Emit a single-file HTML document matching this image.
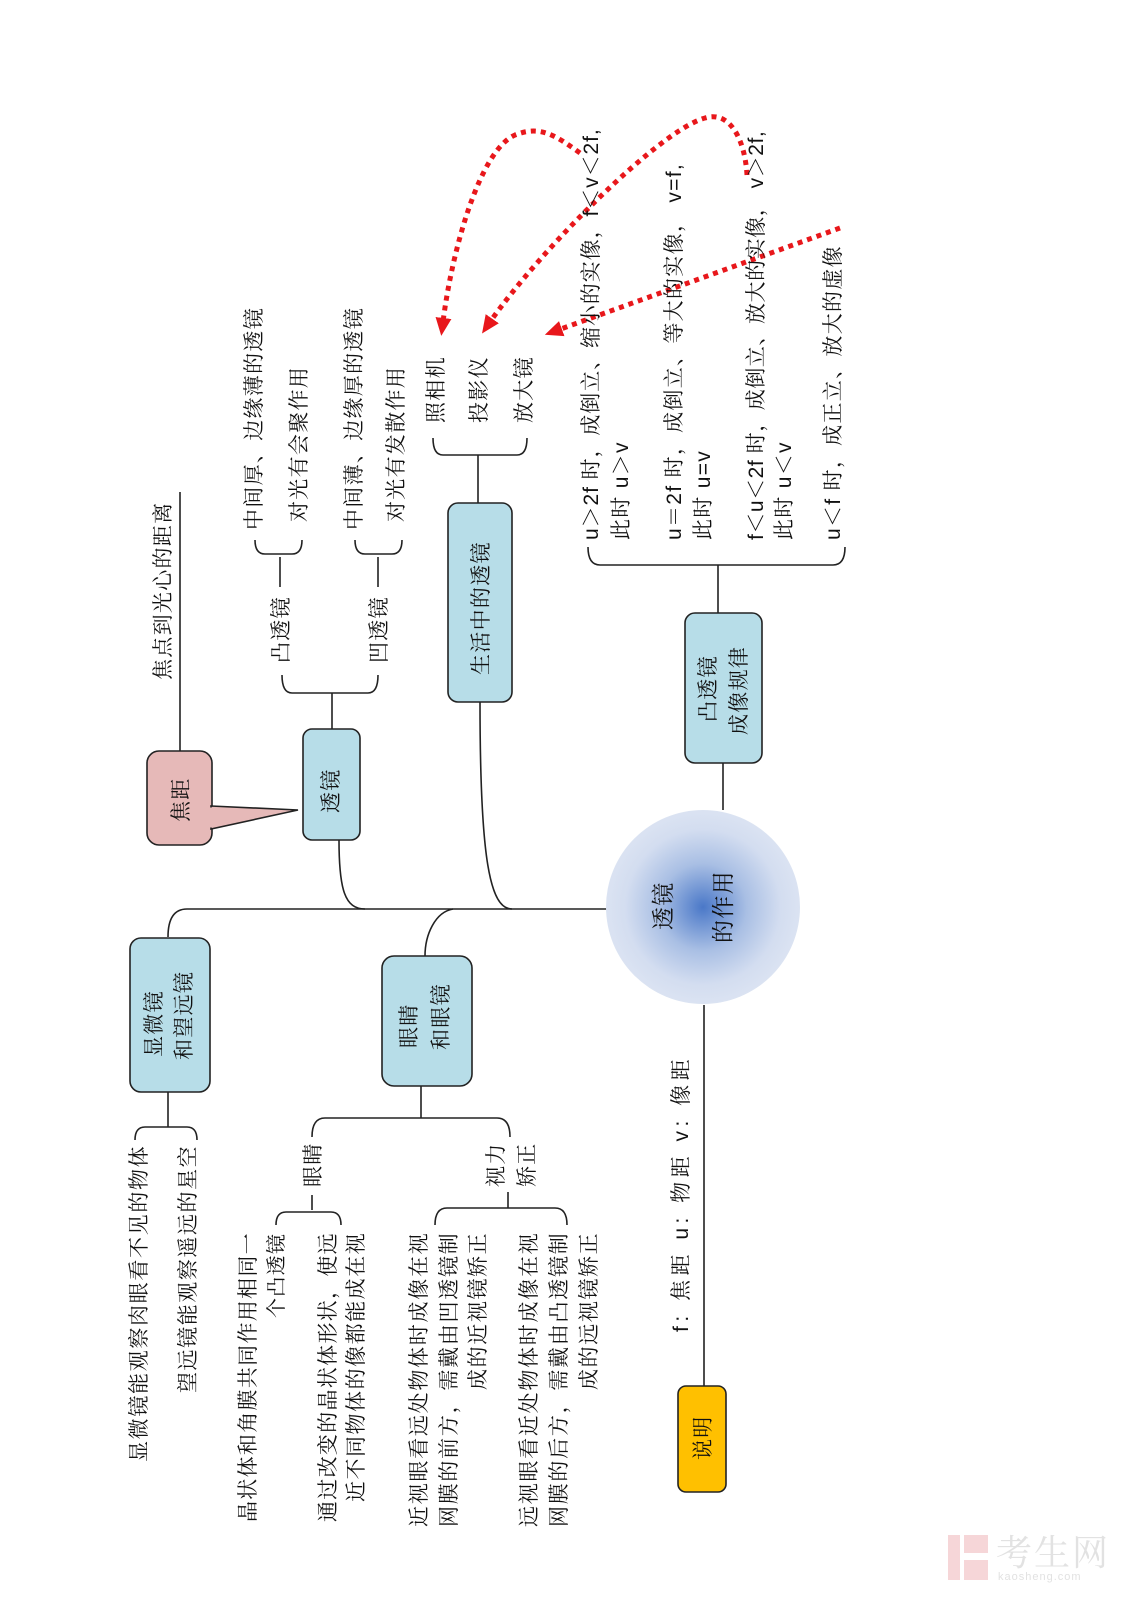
<!DOCTYPE html>
<html><head><meta charset="utf-8"><style>
html,body{margin:0;padding:0;background:#fff;}
svg{display:block;}
text{font-family:"Liberation Sans","Noto Serif CJK SC",serif;font-size:21px;fill:#111;letter-spacing:1.3px;}
.b{fill:#b7dde8;stroke:#222;stroke-width:1.6;}
.l{fill:none;stroke:#222;stroke-width:1.6;}
.r{fill:none;stroke:#e8171b;stroke-width:5;stroke-dasharray:5 5;}
</style></head><body>
<svg width="1131" height="1600" viewBox="0 0 1131 1600" xmlns="http://www.w3.org/2000/svg">
<defs>
<radialGradient id="g" cx="50%" cy="50%" r="50%">
<stop offset="0" stop-color="#4a78c8"/><stop offset="0.45" stop-color="#a9bfe4"/><stop offset="0.8" stop-color="#d3ddf0"/><stop offset="1" stop-color="#dbe3f2"/>
</radialGradient>
<marker id="ah" markerWidth="20" markerHeight="20" refX="4" refY="10" orient="auto" markerUnits="userSpaceOnUse">
<path d="M0,2 L18,10 L0,18 Z" fill="#e8171b"/>
</marker>
</defs>

<!-- connectors -->
<path class="l" d="M187,909 H607 M187,909 Q168,909 168,937"/>
<path class="l" d="M339,840 C339,890 345,909 365,909"/>
<path class="l" d="M480,702 C480,860 490,909 512,909"/>
<path class="l" d="M453,909 C435,912 425,935 425,956"/>
<path class="l" d="M180,751 V492"/>
<path class="l" d="M332,729 V693 M282,675 Q282,693 292,693 H368 Q378,693 378,675"/>
<path class="l" d="M280,587 V557 M255,540 Q255,554 265,554 H292 Q302,554 302,540"/>
<path class="l" d="M378,587 V557 M355,540 Q355,554 365,554 H392 Q402,554 402,540"/>
<path class="l" d="M478,503 V455 M433,438 Q433,455 443,455 H517 Q527,455 527,438"/>
<path class="l" d="M723,763 V810 M718,613 V565 M588,547 Q588,565 600,565 H833 Q845,565 845,547"/>
<path class="l" d="M704,1005 V1386"/>
<path class="l" d="M168,1092 V1127 M135,1140 Q135,1127 145,1127 H187 Q197,1127 197,1140"/>
<path class="l" d="M421,1086 V1118 M312,1137 Q312,1118 325,1118 H497 Q510,1118 510,1137"/>
<path class="l" d="M312,1195 V1210 M276,1225 Q276,1212 286,1212 H331 Q341,1212 341,1225"/>
<path class="l" d="M508,1192 V1208 M435,1225 Q435,1208 447,1208 H555 Q567,1208 567,1225"/>

<!-- boxes -->
<rect x="147" y="751" width="65" height="94" rx="12" fill="#e6b9b8" stroke="#222" stroke-width="1.6"/>
<polygon points="211,806 298,810 211,829" fill="#e6b9b8" stroke="#222" stroke-width="1.6"/>
<rect x="209" y="807.5" width="4" height="20" fill="#e6b9b8"/>
<rect class="b" x="303" y="729" width="57" height="111" rx="9"/>
<rect class="b" x="448" y="503" width="64" height="199" rx="10"/>
<rect class="b" x="685" y="613" width="77" height="150" rx="10"/>
<rect class="b" x="130" y="938" width="80" height="154" rx="11"/>
<rect class="b" x="382" y="956" width="90" height="130" rx="12"/>
<rect x="678" y="1386" width="48" height="106" rx="8" fill="#ffc000" stroke="#222" stroke-width="1.6"/>
<circle cx="703" cy="907" r="97" fill="url(#g)"/>

<!-- red arrows -->
<path class="r" d="M580,153 C555,135 540,125 515,135 C480,150 452,250 443,322" marker-end="url(#ah)"/>
<path class="r" d="M747,175 C745,140 730,110 705,118 C660,130 540,250 490,322" marker-end="url(#ah)"/>
<path class="r" d="M840,228 L558,330" marker-end="url(#ah)"/>

<!-- texts (rotated -90) -->
<text transform="translate(170,680) rotate(-90)">焦点到光心的距离</text>
<text transform="translate(188,822) rotate(-90)">焦距</text>
<text transform="translate(338,813) rotate(-90)">透镜</text>
<text transform="translate(288,663) rotate(-90)">凸透镜</text>
<text transform="translate(386,663) rotate(-90)">凹透镜</text>
<text transform="translate(261,530) rotate(-90)">中间厚、边缘薄的透镜</text>
<text transform="translate(306,522) rotate(-90)">对光有会聚作用</text>
<text transform="translate(361,530) rotate(-90)">中间薄、边缘厚的透镜</text>
<text transform="translate(403,522) rotate(-90)">对光有发散作用</text>
<text transform="translate(488,675) rotate(-90)">生活中的透镜</text>
<text transform="translate(443,423) rotate(-90)">照相机</text>
<text transform="translate(486,423) rotate(-90)">投影仪</text>
<text transform="translate(531,423) rotate(-90)">放大镜</text>

<text transform="translate(598,540) rotate(-90)" textLength="412" lengthAdjust="spacing">u＞2f 时，成倒立、缩小的实像，f＜v＜2f,</text>
<text transform="translate(628,540) rotate(-90)">此时 u＞v</text>
<text transform="translate(681,540) rotate(-90)" textLength="377" lengthAdjust="spacing">u＝2f 时，成倒立、等大的实像， v=f,</text>
<text transform="translate(710,540) rotate(-90)">此时 u=v</text>
<text transform="translate(763,540) rotate(-90)" textLength="410" lengthAdjust="spacing">f＜u＜2f 时，成倒立、放大的实像， v＞2f,</text>
<text transform="translate(791,540) rotate(-90)">此时 u＜v</text>
<text transform="translate(840,540) rotate(-90)" textLength="295" lengthAdjust="spacing">u＜f 时，成正立、放大的虚像</text>

<text transform="translate(715,722) rotate(-90)">凸透镜</text>
<text transform="translate(746,735) rotate(-90)">成像规律</text>
<text transform="translate(671,930) rotate(-90)" style="font-size:23px">透镜</text>
<text transform="translate(731,943) rotate(-90)" style="font-size:23px">的作用</text>

<text transform="translate(688,1332) rotate(-90)" textLength="274" lengthAdjust="spacing">f:  焦距   u:  物距   v:  像距</text>
<text transform="translate(710,1460) rotate(-90)">说明</text>

<text transform="translate(161,1057) rotate(-90)">显微镜</text>
<text transform="translate(191,1060) rotate(-90)">和望远镜</text>
<text transform="translate(416,1048) rotate(-90)">眼睛</text>
<text transform="translate(448,1050) rotate(-90)">和眼镜</text>

<text transform="translate(146,1462) rotate(-90)" textLength="317" lengthAdjust="spacing">显微镜能观察肉眼看不见的物体</text>
<text transform="translate(195,1393) rotate(-90)" textLength="248" lengthAdjust="spacing">望远镜能观察遥远的星空</text>

<text transform="translate(320,1187) rotate(-90)">眼睛</text>
<text transform="translate(503,1187) rotate(-90)">视力</text>
<text transform="translate(534,1187) rotate(-90)">矫正</text>

<text transform="translate(255,1522) rotate(-90)" textLength="290" lengthAdjust="spacing">晶状体和角膜共同作用相同一</text>
<text transform="translate(283,1318) rotate(-90)" style="font-size:20px">个凸透镜</text>
<text transform="translate(335,1522) rotate(-90)" textLength="290" lengthAdjust="spacing">通过改变的晶状体形状，使远</text>
<text transform="translate(363,1502) rotate(-90)" textLength="270" lengthAdjust="spacing">近不同物体的像都能成在视</text>
<text transform="translate(426,1527) rotate(-90)" textLength="295" lengthAdjust="spacing">近视眼看远处物体时成像在视</text>
<text transform="translate(456,1527) rotate(-90)" textLength="295" lengthAdjust="spacing">网膜的前方，需戴由凹透镜制</text>
<text transform="translate(485,1390) rotate(-90)" textLength="158" lengthAdjust="spacing">成的近视镜矫正</text>
<text transform="translate(536,1527) rotate(-90)" textLength="295" lengthAdjust="spacing">远视眼看近处物体时成像在视</text>
<text transform="translate(566,1527) rotate(-90)" textLength="295" lengthAdjust="spacing">网膜的后方，需戴由凸透镜制</text>
<text transform="translate(596,1390) rotate(-90)" textLength="158" lengthAdjust="spacing">成的远视镜矫正</text>

<!-- watermark -->
<rect x="948" y="1535" width="12" height="45" fill="#f6d6d8"/>
<rect x="964" y="1535" width="24" height="18" fill="#f6d6d8"/>
<rect x="964" y="1560" width="24" height="20" fill="#f6d6d8"/>
<text x="996" y="1565" style="font-size:36px;fill:#e2e2e2;letter-spacing:2px;">考生网</text>
<text x="998" y="1580" style="font-size:11px;fill:#e2e2e2;letter-spacing:1px;">kaosheng.com</text>
</svg>
</body></html>
